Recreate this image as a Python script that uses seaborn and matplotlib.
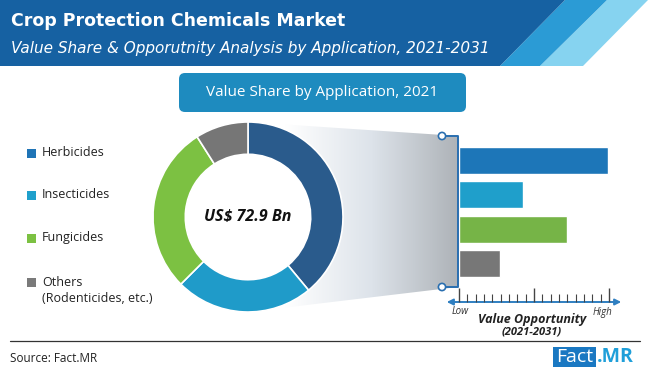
import numpy as np
import matplotlib
matplotlib.use("Agg")
import matplotlib.pyplot as plt
from matplotlib.patches import Polygon, Circle, FancyBboxPatch, Rectangle
from matplotlib.colors import LinearSegmentedColormap
import seaborn as sns

# ---- data ----
applications = ["Herbicides", "Insecticides", "Fungicides", "Others"]
legend_labels = ["Herbicides", "Insecticides", "Fungicides", "Others\n(Rodenticides, etc.)"]
share_2021 = [39.0, 23.5, 28.5, 9.0]          # % value share, 2021
opportunity = [17.9, 7.7, 13.0, 4.9]          # relative value opportunity 2021-2031
market_size = "US$ 72.9 Bn"

donut_colors = ["#2a5b8c", "#1f9bc9", "#7cc142", "#767676"]
bar_colors = ["#1d76b8", "#1f9fcb", "#76b447", "#777777"]
legend_colors = ["#1f74b6", "#1fa0cc", "#7cc142", "#7a7a7a"]

W, H = 650, 376

sns.set_theme(style="white")
plt.rcParams["font.family"] = ["Open Sans", "DejaVu Sans"]

fig = plt.figure(figsize=(W / 100, H / 100), dpi=100, facecolor="white")


def px_axes(left, top, width, height, **kw):
    return fig.add_axes([left / W, 1 - (top + height) / H, width / W, height / H], **kw)


# overlay in pixel units, y pointing down
bg = px_axes(0, 0, W, H)
bg.set_xlim(0, W)
bg.set_ylim(H, 0)
bg.axis("off")

# header band with diagonal stripes
bg.add_patch(Polygon([(607, 0), (648, 0), (583, 66), (540, 66)], color="#86d3f0", lw=0))
bg.add_patch(Polygon([(565, 0), (607, 0), (540, 66), (500, 66)], color="#2b9bd5", lw=0))
bg.add_patch(Polygon([(0, 0), (565, 0), (500, 66), (0, 66)], color="#1661a2", lw=0))
bg.text(11, 21, "Crop Protection Chemicals Market", color="white", fontsize=12.5,
        fontweight="bold", family=["DejaVu Sans"], va="center")
bg.text(11, 48, "Value Share & Opporutnity Analysis by Application, 2021-2031", color="white",
        fontsize=11, fontstyle="italic", family=["DejaVu Sans"], va="center")

# sub-header box
bg.add_patch(FancyBboxPatch((179, 73), 287, 39, boxstyle="round,pad=0,rounding_size=6",
                            fc="#1e8bbf", ec="none"))
bg.text(322, 92, "Value Share by Application, 2021", color="white", fontsize=11,
        ha="center", va="center")

# gradient funnel from donut to bars
funnel = Polygon([(248, 122), (458, 136), (458, 287), (248, 312)], fc="none", ec="none")
bg.add_patch(funnel)
grad = np.clip((np.linspace(248, 458, 200) - 285) / (458 - 285), 0, 1)[None, :]
cmap = LinearSegmentedColormap.from_list("fun", ["#ffffff", "#dde3ea", "#aeb3b8"])
im = bg.imshow(grad, cmap=cmap, extent=[248, 458, 312, 122], aspect="auto", zorder=1)
im.set_clip_path(funnel)

# bracket with open circles
br = "#2a6fb0"
bg.plot([442, 458, 458, 442], [136, 136, 287, 287], color=br, lw=1.4, zorder=2)
for cy in (136, 287):
    bg.add_patch(Circle((442, cy), 3.6, fc="white", ec=br, lw=1.2, zorder=3))

# value opportunity arrow axis
bg.annotate("", xy=(624, 302), xytext=(444, 302),
            arrowprops=dict(arrowstyle="<|-|>", color="#2f7fc1", lw=1.4, mutation_scale=9),
            zorder=2)
bg.text(460, 312, "Low", fontsize=7, fontstyle="italic", color="#333333", ha="center", va="center")
bg.text(602, 312, "High", fontsize=7, fontstyle="italic", color="#333333", ha="center", va="center")
bg.text(532, 319, "Value Opportunity", fontsize=9, fontstyle="italic", fontweight="bold",
        color="#222222", ha="center", va="center")
bg.text(532, 332, "(2021-2031)", fontsize=8, fontstyle="italic", fontweight="bold",
        color="#222222", ha="center", va="center")

# legend
for yy, lab, col in zip([153, 195, 238, 282], legend_labels, legend_colors):
    bg.add_patch(Rectangle((27, yy - 4.5), 9, 9, color=col, lw=0))
    bg.text(42, yy, lab.split("\n")[0], fontsize=9, color="#222222", va="center")
    if "\n" in lab:
        bg.text(42, yy + 16, lab.split("\n")[1], fontsize=9, color="#222222", va="center")

# footer
bg.plot([10, 640], [341, 341], color="#333333", lw=0.9)
bg.text(10, 358, "Source: Fact.MR", fontsize=8.5, color="#222222", va="center")
bg.add_patch(Rectangle((553, 347), 43, 20, color="#1a78c2", lw=0))
bg.text(574.5, 357.5, "Fact", fontsize=14, color="white", ha="center", va="center")
bg.text(597, 357.5, ".MR", fontsize=14, color="#1f9fd9", fontweight="bold", va="center")

# donut
ax_d = px_axes(153, 122, 190, 190)
ax_d.pie(share_2021, colors=donut_colors, startangle=90, counterclock=False, radius=1,
         wedgeprops=dict(width=0.34, edgecolor="white", linewidth=1.2))
ax_d.add_patch(Circle((0, 0), 0.66, fc="white", ec="none", zorder=0))
ax_d.set_xlim(-1, 1)
ax_d.set_ylim(-1, 1)
ax_d.set_aspect("equal")
ax_d.axis("off")
ax_d.text(0, 0, market_size, fontsize=11.5, fontweight="bold", fontstyle="italic",
          ha="center", va="center", color="#111111")

# opportunity bars
ax_b = px_axes(459, 143, 150, 159)
ax_b.patch.set_alpha(0)
sns.barplot(x=opportunity, y=applications, hue=applications, palette=bar_colors,
            legend=False, saturation=1, width=0.78, orient="h", ax=ax_b)
ax_b.set_xlim(0, 18)
ax_b.set_ylim(4.1, -0.5)
sns.despine(ax=ax_b, left=True, bottom=True)
ax_b.set_xticks([0, 9, 18])
ax_b.set_xticks(range(19), minor=True)
ax_b.set_xticklabels([])
ax_b.set_yticks([])
ax_b.set_xlabel("")
ax_b.set_ylabel("")
ax_b.tick_params(axis="x", which="major", direction="in", length=10, width=1,
                 color="#444444", bottom=True)
ax_b.tick_params(axis="x", which="minor", direction="in", length=6, width=0.8,
                 color="#444444", bottom=True)

fig.savefig("out.png", dpi=100, facecolor="white")
